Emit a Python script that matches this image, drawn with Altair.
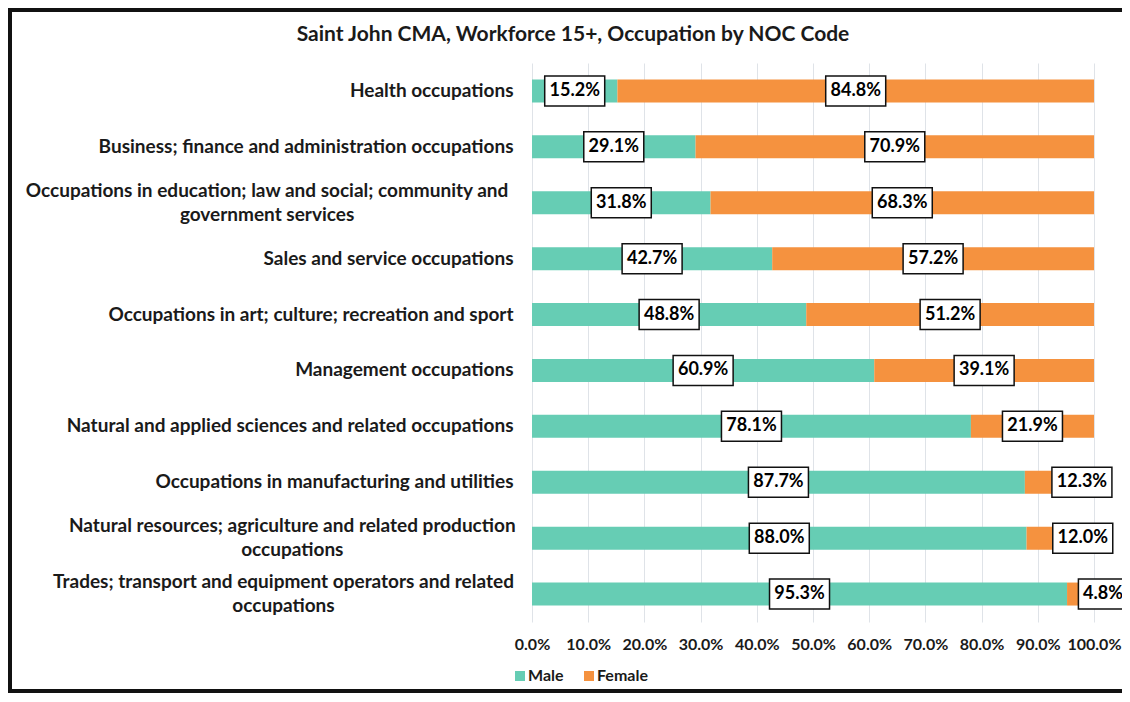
import altair as alt
import pandas as pd

occupations = [
    "Health occupations",
    "Business; finance and administration occupations",
    "Occupations in education; law and social; community and\ngovernment services",
    "Sales and service occupations",
    "Occupations in art; culture; recreation and sport",
    "Management occupations",
    "Natural and applied sciences and related occupations",
    "Occupations in manufacturing and utilities",
    "Natural resources; agriculture and related production\noccupations",
    "Trades; transport and equipment operators and related\noccupations",
]
male = [15.2, 29.1, 31.8, 42.7, 48.8, 60.9, 78.1, 87.7, 88.0, 95.3]
female = [84.8, 70.9, 68.3, 57.2, 51.2, 39.1, 21.9, 12.3, 12.0, 4.8]
genders = ["Male", "Female"]
colors = ["#66CDB4", "#F5923F"]
x_ticks = [0.0, 0.1, 0.2, 0.3, 0.4, 0.5, 0.6, 0.7, 0.8, 0.9, 1.0]
title_text = "Saint John CMA, Workforce 15+, Occupation by NOC Code"

rows = []
for occ, m, f in zip(occupations, male, female):
    rows.append({"occ": occ, "gender": genders[0], "order": 0, "pct": m})
    rows.append({"occ": occ, "gender": genders[1], "order": 1, "pct": f})
df = pd.DataFrame(rows)

FONT = "Lato"
INK = "#1a1a1a"

base = alt.Chart(df).transform_stack(
    stack="pct", groupby=["occ"], as_=["x0", "x1"], offset="normalize",
    sort=[alt.SortField("order")]
).transform_calculate(
    mid="(datum.x0 + datum.x1) / 2",
    lab_x="datum.gender == 'Female' && (datum.x1 - datum.x0) < 0.15 ? (datum.x0 + datum.x1) / 2 + 0.04 : (datum.x0 + datum.x1) / 2",
    label_text="format(datum.pct, '.1f') + '%'",
)

# wrapped labels: centre each block under the right-aligned first line
NL = "indexof(datum.value, '\\n')"
LINE1 = f"slice(datum.value, 0, {NL})"
WIDE = f"length(replace({LINE1}, regexp('[iltfrj;, ]', 'g'), ''))"
PAD_EXPR = f"{NL} >= 0 ? 19 + (12 * {WIDE} + 3.2 * ({NL} - {WIDE})) / 2 : 19"

y_enc = alt.Y(
    "occ:N", sort=occupations, title=None,
    scale=alt.Scale(paddingInner=0, paddingOuter=0),
    axis=alt.Axis(
        domain=False, ticks=False, grid=False,
        labelExpr="split(datum.label, '\\n')",
        labelAlign={"condition": {"test": f"{NL} >= 0", "value": "center"}, "value": "right"},
        labelPadding={"expr": PAD_EXPR},
        labelOffset={"expr": f"{NL} >= 0 ? -12 : 0"},
        labelFont=FONT, labelFontSize=19, labelFontWeight="bold", labelColor=INK,
        labelLimit=0, labelLineHeight=24, labelBaseline="middle",
    ),
)

x_scale = alt.Scale(domain=[0, 1])

bars = base.mark_bar(size=23).encode(
    x=alt.X(
        "x0:Q", scale=x_scale, title=None,
        axis=alt.Axis(
            values=x_ticks, format=".1%", domain=False, ticks=False,
            grid=True, gridColor="#dfe3e8", gridWidth=1,
            labelFont=FONT, labelFontSize=16, labelFontWeight="bold", labelColor=INK,
            labelPadding=14, labelOverlap=False, labelFlush=False,
        ),
    ),
    x2="x1:Q",
    y=y_enc,
    color=alt.Color(
        "gender:N", sort=genders,
        scale=alt.Scale(domain=genders, range=colors),
        legend=alt.Legend(
            orient="none", legendX=-20, legendY=605, direction="horizontal",
            title=None, symbolType="square", symbolSize=100, symbolStrokeWidth=0,
            labelFont=FONT, labelFontSize=16, labelFontWeight="bold", labelColor=INK,
            labelOffset=0, columnPadding=17, padding=0,
        ),
    ),
    order=alt.Order("order:Q"),
)

box_wide = "M-1,-0.5H1V0.5H-1Z"
box_narrow = "M-0.82,-0.5H0.82V0.5H-0.82Z"

boxes = base.mark_point(
    filled=True, fill="white", stroke="#111111", strokeWidth=1.5, opacity=1, size=3600
).encode(
    x=alt.X("lab_x:Q", scale=x_scale, title=None),
    y=alt.Y("occ:N", sort=occupations, title=None),
    shape=alt.condition("length(datum.label_text) < 5", alt.value(box_narrow), alt.value(box_wide)),
)

texts = base.mark_text(
    font=FONT, fontSize=18, fontWeight="bold", color="#000000", align="center", baseline="middle"
).encode(
    x=alt.X("lab_x:Q", scale=x_scale, title=None),
    y=alt.Y("occ:N", sort=occupations, title=None),
    text="label_text:N",
)

frame = alt.Chart(pd.DataFrame({"f": [0]})).mark_rect(
    fill="transparent", stroke="#111111", strokeWidth=4
).encode(
    x=alt.value(-522), x2=alt.value(610), y=alt.value(-53), y2=alt.value(628)
)

chart = alt.layer(frame, bars, boxes, texts).properties(
    width=562, height=559,
    title=alt.TitleParams(
        title_text, anchor="middle", frame="group", dx=-240, offset=-37,
        font=FONT, fontSize=21, fontWeight="bold", color=INK,
    ),
    autosize=alt.AutoSizeParams(type="none"),
    padding={"left": 524, "top": 55, "right": 28, "bottom": 72},
).configure_view(stroke=None)

chart.save("out.html", embed_options={"renderer": "svg", "actions": False})
